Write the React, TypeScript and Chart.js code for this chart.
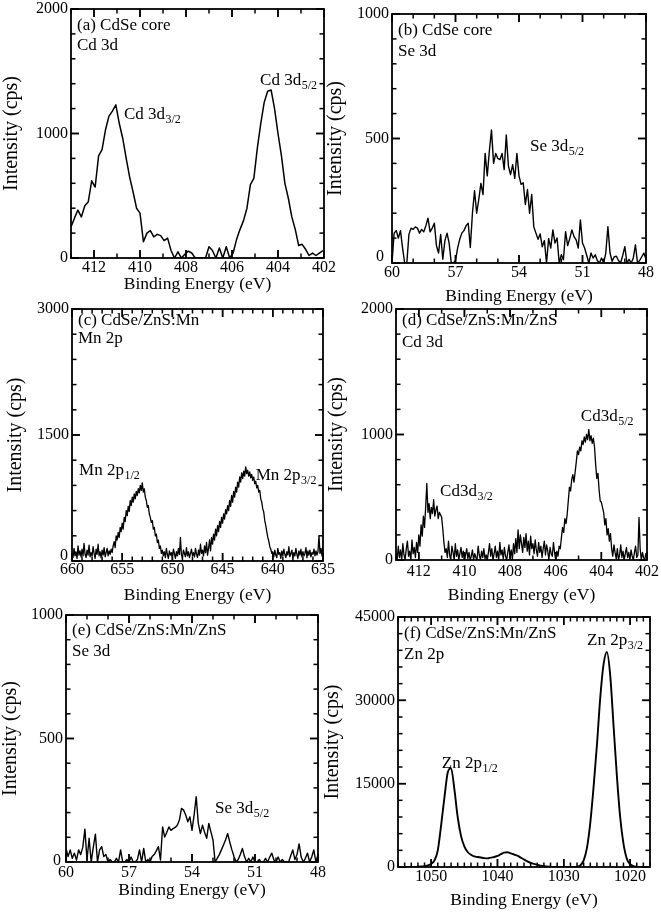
import React, { useEffect, useRef } from "react";
import { Chart, registerables } from "chart.js";

Chart.register(...registerables);

const FONT = '"Liberation Serif", "Times New Roman", Times, serif';

// ---------------- DATA ----------------
// (a) CdSe core, Cd 3d : binding energy grid start / step, intensities (cps)
const A_E0 = 413;
const A_DE = 0.15;
const A_CPS = [
  250, 320, 385, 330, 420, 450, 620, 570, 820, 870,
  1030, 1140, 1180, 1230, 1080, 960, 800, 650, 530, 400,
  360, 130, 200, 220, 170, 190, 180, 140, 160, 60,
  0, 50, 0, 30, 55, 40, 0, 0, 0, 0,
  90, 60, 0, 80, 0, 90, 0, 40, 150, 230,
  300, 400, 590, 640, 880, 1080, 1250, 1340, 1350, 1200,
  1000, 820, 600, 480, 330, 230, 100, 110, 70, 20,
  40, 20, 40, 60,
];

// (b) CdSe core, Se 3d
const B_E0 = 60;
const B_DE = 0.1;
const B_CPS = [
  0, 120, 130, 100, 130, 60, 0, 0, 115, 140,
  135, 145, 140, 120, 135, 125, 150, 180, 125, 140,
  160, 70, 40, 115, 15, 90, 120, 80, 0, 0,
  10, 60, 95, 120, 130, 150, 160, 62, 200, 290,
  200, 255, 320, 275, 440, 350, 450, 534, 400, 440,
  420, 415, 440, 375, 514, 390, 355, 395, 340, 440,
  350, 316, 322, 235, 295, 200, 275, 145, 120, 95,
  117, 65, 90, 0, 99, 60, 133, 80, 100, 0,
  33, 13, 126, 70, 99, 133, 106, 93, 60, 173,
  80, 60, 30, 0, 40, 20, 33, 10, 0, 20,
  0, 40, 146, 40, 7, 25, 27, 10, 0, 30,
  66, 0, 15, 0, 20, 73, 0, 10, 25, 40,
  15,
];

// (c) CdSe/ZnS:Mn, Mn 2p
const C_E0 = 660;
const C_DE = 0.1;
const C_CPS = [
  90, 40, 150, 60, 110, 30, 180, 70, 120, 50,
  140, 60, 210, 80, 40, 130, 70, 190, 50, 100,
  60, 170, 90, 30, 140, 80, 200, 60, 110, 40,
  130, 70, 160, 50, 100, 150, 60, 120, 80, 140,
  100, 180, 230, 160, 300, 250, 340, 280, 400, 350,
  450, 380, 520, 470, 600, 540, 650, 590, 720, 660,
  760, 700, 800, 740, 830, 780, 860, 810, 900, 840,
  930, 820, 860, 760, 720, 640, 660, 560, 520, 460,
  480, 380, 400, 300, 320, 220, 250, 150, 180, 90,
  130, 60, 110, 40, 150, 80, 30, 120, 70, 100,
  50, 140, 90, 30, 110, 60, 150, 80, 280, 70,
  40, 130, 90, 50, 160, 60, 110, 40, 90, 140,
  60, 100, 50, 150, 80, 40, 130, 70, 200, 90,
  130, 60, 180, 100, 220, 70, 150, 250, 120, 280,
  200, 320, 250, 380, 300, 420, 350, 470, 400, 520,
  450, 560, 500, 610, 560, 660, 600, 720, 650, 780,
  700, 830, 760, 880, 820, 940, 880, 1000, 940, 1050,
  980, 1070, 1010, 1120, 1040, 1080, 1010, 1060, 990, 1030,
  960, 1000, 920, 950, 870, 900, 820, 840, 740, 700,
  620, 580, 480, 420, 350, 280, 240, 170, 140, 90,
  110, 50, 130, 70, 40, 150, 80, 100, 30, 120,
  60, 140, 80, 40, 110, 70, 170, 50, 90, 130,
  40, 100, 60, 150, 80, 30, 120, 70, 140, 50,
  110, 60, 90, 160, 40, 120, 70, 130, 50, 100,
  80, 140, 60, 120, 70, 110, 300, 90, 150, 60, 180,
];

// (d) CdSe/ZnS:Mn/ZnS, Cd 3d
const D_E0 = 413;
const D_DE = 0.05;
const D_CPS = [
  60, 0, 110, 20, 80, 0, 130, 40, 0, 90, 150, 30, 70, 0, 160, 50, 100, 20, 140, 60,
  200, 110, 280, 190, 350, 260, 420, 610, 380, 450, 330, 420, 370, 480, 350, 400, 430, 330, 380, 360,
  340, 250, 140, 60, 90, 20, 150, 40, 0, 110, 60, 0, 130, 30, 80, 0, 50, 100, 20, 70,
  0, 40, 90, 10, 60, 0, 30, 80, 0, 50, 20, 0, 110, 40, 0, 70, 20, 90, 10, 40,
  0, 60, 130, 30, 90, 0, 50, 110, 20, 70, 0, 140, 40, 80, 10, 100, 30, 0, 60, 120,
  20, 80, 0, 130, 50, 170, 60, 240, 90, 200, 130, 60, 180, 100, 210, 70, 150, 40, 190, 90,
  130, 50, 160, 80, 30, 140, 60, 110, 20, 90, 150, 40, 120, 70, 0, 100, 50, 30, 140, 60,
  0, 70, 30, 110, 90, 180, 260, 220, 330, 290, 360, 470, 580, 550, 640, 680, 620, 700, 780, 870,
  840, 900, 870, 950, 920, 980, 940, 1000, 960, 1040, 950, 990, 930, 970, 900, 760, 650, 690, 560, 470,
  460, 420, 380, 280, 330, 200, 250, 150, 210, 90, 30, 120, 60, 10, 90, 0, 40, 120, 20, 70,
  0, 50, 100, 20, 60, 0, 80, 30, 0, 60, 110, 20, 40, 340, 90, 0, 60, 20, 0, 50,
  30,
];

// (e) CdSe/ZnS:Mn/ZnS, Se 3d
const E_E0 = 60;
const E_DE = 0.1;
const E_CPS = [
  55, 22, 49, 15, 36, 8, 49, 30, 60, 133,
  8, 96, 0, 60, 113, 0, 49, 62, 22, 30,
  0, 10, 0, 0, 15, 0, 49, 0, 0, 10,
  0, 20, 0, 0, 10, 49, 0, 55, 0, 10,
  0, 22, 30, 45, 62, 8, 142, 101, 120, 142,
  128, 135, 140, 149, 170, 217, 210, 190, 163, 183,
  128, 190, 264, 156, 115, 149, 120, 96, 156, 122,
  89, 0, 15, 30, 49, 69, 90, 115, 80, 49,
  22, 0, 10, 30, 55, 22, 0, 15, 0, 20,
  0, 0, 10, 0, 0, 15, 0, 20, 36, 8,
  0, 20, 0, 10, 0, 0, 0, 25, 49, 10,
  30, 73, 20, 0, 15, 36, 0, 20, 49, 0,
  30,
];

// (f) CdSe/ZnS:Mn/ZnS, Zn 2p
const F_E0 = 1055;
const F_DE = 0.5;
const F_CPS = [
  0, 0, 0, 0, 0, 0, 50, 100, 150, 300,
  550, 1200, 3000, 7500, 12500, 17000, 17800, 14000, 9000, 5600,
  3700, 2700, 2200, 1900, 1800, 1700, 1600, 1550, 1700, 1800,
  2000, 2300, 2600, 2650, 2450, 2250, 2050, 1700, 1350, 1000,
  750, 550, 380, 250, 150, 80, 40, 0, 0, 0,
  0, 0, 0, 0, 50, 300, 1200, 3500, 8000, 14500,
  22000, 30500, 36500, 38700, 34500, 25500, 16500, 9000, 4200, 1500,
  500, 150, 50, 0, 0, 0, 0,
];

// tick labels
const CD_XTICKS = [412, 410, 408, 406, 404, 402];
const SE_XTICKS = [60, 57, 54, 51, 48];
const MN_XTICKS = [660, 655, 650, 645, 640, 635];
const ZN_XTICKS = [1050, 1040, 1030, 1020];
const Y2000_TICKS = [0, 1000, 2000];
const Y1000_TICKS = [0, 500, 1000];
const Y3000_TICKS = [0, 1500, 3000];
const Y45000_TICKS = [0, 15000, 30000, 45000];

// ---------------- PANELS ----------------
type Peak = { e: number; v: number; main: string; sub: string };
type Panel = {
  key: string;
  e0: number; de: number; cps: number[];
  xMin: number; xMax: number; xTicks: number[]; xMinor: number;
  yMax: number; yTicks: number[]; yMinor: number;
  titles: string[]; titleDy: number[];
  peaks: Peak[];
  box: { l: number; t: number; r: number; b: number };
  yTitleX: number; xLabelY: number; xTitleY: number;
  lw: number; smooth?: boolean;
  zeroShift?: { dx: number; dy: number };
};

const PANELS: Panel[] = [
  {
    key: "a", e0: A_E0, de: A_DE, cps: A_CPS,
    xMin: 402, xMax: 413, xTicks: CD_XTICKS, xMinor: 1,
    yMax: 2000, yTicks: Y2000_TICKS, yMinor: 200,
    titles: ["(a) CdSe core", "Cd 3d"], titleDy: [21, 41],
    peaks: [
      { e: 410.7, v: 1119, main: "Cd 3d", sub: "3/2" },
      { e: 404.78, v: 1387, main: "Cd 3d", sub: "5/2" },
    ],
    box: { l: 71, t: 9, r: 324, b: 258 }, yTitleX: 12, xLabelY: 268, xTitleY: 284, lw: 1.5,
  },
  {
    key: "b", e0: B_E0, de: B_DE, cps: B_CPS,
    xMin: 48, xMax: 60, xTicks: SE_XTICKS, xMinor: 1,
    yMax: 1000, yTicks: Y1000_TICKS, yMinor: 100,
    titles: ["(b) CdSe core", "Se 3d"], titleDy: [21, 42],
    peaks: [{ e: 53.48, v: 451, main: "Se 3d", sub: "5/2" }],
    box: { l: 392, t: 14, r: 646, b: 263 }, yTitleX: 336, xLabelY: 273, xTitleY: 296, lw: 1.4,
    zeroShift: { dx: -5, dy: -6 },
  },
  {
    key: "c", e0: C_E0, de: C_DE, cps: C_CPS,
    xMin: 635, xMax: 660, xTicks: MN_XTICKS, xMinor: 1,
    yMax: 3000, yTicks: Y3000_TICKS, yMinor: 300,
    titles: ["(c) CdSe/ZnS:Mn", "Mn 2p"], titleDy: [16, 34],
    peaks: [
      { e: 659.3, v: 1028, main: "Mn 2p", sub: "1/2" },
      { e: 641.7, v: 969, main: "Mn 2p", sub: "3/2" },
    ],
    box: { l: 72, t: 309, r: 323, b: 561 }, yTitleX: 16, xLabelY: 570, xTitleY: 595, lw: 1.3,
    zeroShift: { dx: -1, dy: -5 },
  },
  {
    key: "d", e0: D_E0, de: D_DE, cps: D_CPS,
    xMin: 402, xMax: 413, xTicks: CD_XTICKS, xMinor: 1,
    yMax: 2000, yTicks: Y2000_TICKS, yMinor: 200,
    titles: ["(d) CdSe/ZnS:Mn/ZnS", "Cd 3d"], titleDy: [16, 38],
    peaks: [
      { e: 411.07, v: 508, main: "Cd3d", sub: "3/2" },
      { e: 404.9, v: 1105, main: "Cd3d", sub: "5/2" },
    ],
    box: { l: 396, t: 309, r: 647, b: 560 }, yTitleX: 337, xLabelY: 572, xTitleY: 595, lw: 1.3,
  },
  {
    key: "e", e0: E_E0, de: E_DE, cps: E_CPS,
    xMin: 48, xMax: 60, xTicks: SE_XTICKS, xMinor: 1,
    yMax: 1000, yTicks: Y1000_TICKS, yMinor: 100,
    titles: ["(e) CdSe/ZnS:Mn/ZnS", "Se 3d"], titleDy: [20, 41],
    peaks: [{ e: 52.9, v: 198, main: "Se 3d", sub: "5/2" }],
    box: { l: 66, t: 615, r: 318, b: 862 }, yTitleX: 11, xLabelY: 873, xTitleY: 890, lw: 1.4,
    zeroShift: { dx: -2, dy: -1 },
  },
  {
    key: "f", e0: F_E0, de: F_DE, cps: F_CPS,
    xMin: 1017, xMax: 1055, xTicks: ZN_XTICKS, xMinor: 1,
    yMax: 45000, yTicks: Y45000_TICKS, yMinor: 3000,
    titles: ["(f) CdSe/ZnS:Mn/ZnS", "Zn 2p"], titleDy: [21, 42],
    peaks: [
      { e: 1048.4, v: 17820, main: "Zn 2p", sub: "1/2" },
      { e: 1026.5, v: 40030, main: "Zn 2p", sub: "3/2" },
    ],
    box: { l: 398, t: 617, r: 650, b: 867 }, yTitleX: 333, xLabelY: 877, xTitleY: 900, lw: 1.9, smooth: true,
  },
];

// ---------------- DRAWING HELPERS ----------------
const TICK_FONT = 16;
const XTITLE_FONT = 17.5;
const YTITLE_FONT = 20;
const ANN_FONT = 17;
const SUB_FONT = 12;
const Y_LABEL_PAD = 3;
const TICK_COLOR = "#000";
const MAJ = 8;
const MIN = 4.5;
const TICK_W = 1.5;

function gridValues(min: number, max: number, step: number): number[] {
  const out: number[] = [];
  const k0 = Math.ceil(min / step - 1e-9);
  const k1 = Math.floor(max / step + 1e-9);
  for (let k = k0; k <= k1; k++) out.push(+(k * step).toFixed(6));
  return out;
}

function makeDecor(p: Panel) {
  return {
    id: "xpsDecor" + p.key,
    afterDraw(chart: any) {
      const ctx: CanvasRenderingContext2D = chart.ctx;
      const ca = chart.chartArea;
      const xs = chart.scales.x;
      const ys = chart.scales.y;
      const isMajor = (list: number[], v: number) => list.some((t) => Math.abs(t - v) < 1e-6);
      ctx.save();
      // inward ticks on all four sides
      ctx.fillStyle = TICK_COLOR;
      const xv = gridValues(p.xMin, p.xMax, p.xMinor).concat(p.xTicks);
      for (const v of xv) {
        const len = isMajor(p.xTicks, v) ? MAJ : MIN;
        const px = xs.getPixelForValue(v);
        ctx.fillRect(px - TICK_W / 2, ca.bottom - len, TICK_W, len);
        ctx.fillRect(px - TICK_W / 2, ca.top, TICK_W, len);
      }
      const yv = gridValues(0, p.yMax, p.yMinor).concat(p.yTicks);
      for (const v of yv) {
        const len = isMajor(p.yTicks, v) ? MAJ : MIN;
        const py = ys.getPixelForValue(v);
        ctx.fillRect(ca.left, py - TICK_W / 2, len, TICK_W);
        ctx.fillRect(ca.right - len, py - TICK_W / 2, len, TICK_W);
      }
      // frame
      ctx.strokeStyle = "#000";
      ctx.lineWidth = 1.8;
      ctx.strokeRect(ca.left, ca.top, ca.right - ca.left, ca.bottom - ca.top);

      // panel titles and peak labels
      ctx.fillStyle = "#000";
      ctx.textAlign = "left";
      ctx.textBaseline = "alphabetic";
      ctx.font = `${ANN_FONT}px ${FONT}`;
      p.titles.forEach((t, i) => {
        ctx.fillText(t, ca.left + 6, ca.top + p.titleDy[i]);
      });
      for (const pk of p.peaks) {
        const px = xs.getPixelForValue(pk.e);
        const py = ys.getPixelForValue(pk.v);
        ctx.font = `${ANN_FONT}px ${FONT}`;
        ctx.fillText(pk.main, px, py);
        const w = ctx.measureText(pk.main).width;
        ctx.font = `${SUB_FONT}px ${FONT}`;
        ctx.fillText(pk.sub, px + w + 0.5, py + 4);
      }
      // zero label of the y axis nudged clear of the first x label
      if (p.zeroShift) {
        ctx.font = `${TICK_FONT}px ${FONT}`;
        ctx.textAlign = "right";
        ctx.textBaseline = "middle";
        ctx.fillText(
          String(p.yTicks[0]),
          ca.left - Y_LABEL_PAD + p.zeroShift.dx,
          ys.getPixelForValue(p.yTicks[0]) + p.zeroShift.dy
        );
      }
      ctx.restore();
    },
  };
}

function geometry(p: Panel) {
  const cx = p.yTitleX - (YTITLE_FONT * 1.2) / 2;
  const cy = p.box.t - 14;
  const cw = Math.round(p.box.r + 18 - cx);
  const ch = Math.round(p.xTitleY + (XTITLE_FONT * 1.2) / 2 - cy);
  const W = p.box.l - cx;
  const H = cy + ch - p.box.b;
  const xPad = p.xLabelY - p.box.b - (TICK_FONT * 1.2) / 2;
  return { cx, cy, cw, ch, W, H, xPad, padRight: cx + cw - p.box.r };
}

function PanelChart({ p }: { p: Panel }) {
  const ref = useRef<HTMLCanvasElement | null>(null);
  const g = geometry(p);

  useEffect(() => {
    if (!ref.current) return;
    const energies = p.cps.map((_, i) => +(p.e0 - i * p.de).toFixed(3));
    const points = p.cps.map((v, i) => ({ x: energies[i], y: v }));
    const zeroPad = (s: any) => {
      s.paddingLeft = 0;
      s.paddingRight = 0;
      s.paddingTop = 0;
      s.paddingBottom = 0;
    };
    const chart = new Chart(ref.current, {
      type: "line",
      data: {
        datasets: [
          {
            data: points,
            borderColor: "#000",
            borderWidth: p.lw,
            pointRadius: 0,
            fill: false,
            tension: 0,
            cubicInterpolationMode: p.smooth ? "monotone" : "default",
            borderJoinStyle: "round",
          } as any,
        ],
      },
      options: {
        responsive: false,
        animation: false,
        devicePixelRatio: 1,
        events: [],
        layout: { padding: { left: 0, top: p.box.t - g.cy, right: g.padRight, bottom: 0 } },
        plugins: {
          legend: { display: false },
          tooltip: { enabled: false },
        },
        scales: {
          x: {
            type: "linear",
            min: p.xMin,
            max: p.xMax,
            reverse: true,
            grid: { display: false, drawTicks: false, tickLength: 0 },
            border: { display: false },
            afterBuildTicks: (s: any) => {
              s.ticks = p.xTicks.map((v) => ({ value: v }));
            },
            afterFit: (s: any) => {
              s.height = g.H;
              zeroPad(s);
            },
            ticks: {
              autoSkip: false,
              maxRotation: 0,
              minRotation: 0,
              padding: g.xPad,
              color: "#000",
              font: { family: FONT, size: TICK_FONT },
              callback: (v: any) => String(v),
            },
            title: {
              display: true,
              text: "Binding Energy (eV)",
              color: "#000",
              font: { family: FONT, size: XTITLE_FONT },
              padding: 0,
            },
          },
          y: {
            type: "linear",
            min: 0,
            max: p.yMax,
            grid: { display: false, drawTicks: false, tickLength: 0 },
            border: { display: false },
            afterBuildTicks: (s: any) => {
              s.ticks = p.yTicks.map((v) => ({ value: v }));
            },
            afterFit: (s: any) => {
              s.width = g.W;
              zeroPad(s);
            },
            ticks: {
              autoSkip: false,
              padding: Y_LABEL_PAD,
              color: "#000",
              font: { family: FONT, size: TICK_FONT },
              callback: (v: any) => (p.zeroShift && v === p.yTicks[0] ? "" : String(v)),
            },
            title: {
              display: true,
              text: "Intensity (cps)",
              color: "#000",
              font: { family: FONT, size: YTITLE_FONT },
              padding: 0,
            },
          },
        },
      } as any,
      plugins: [makeDecor(p) as any],
    });
    return () => chart.destroy();
  }, []);

  return (
    <canvas
      ref={ref}
      width={g.cw}
      height={g.ch}
      style={{ position: "absolute", left: g.cx, top: g.cy, width: g.cw, height: g.ch }}
    />
  );
}

export default function App() {
  return (
    <div
      style={{
        position: "absolute",
        left: 0,
        top: 0,
        width: 661,
        height: 913,
        overflow: "hidden",
        background: "#fff",
      }}
    >
      {PANELS.map((p) => (
        <PanelChart key={p.key} p={p} />
      ))}
    </div>
  );
}
